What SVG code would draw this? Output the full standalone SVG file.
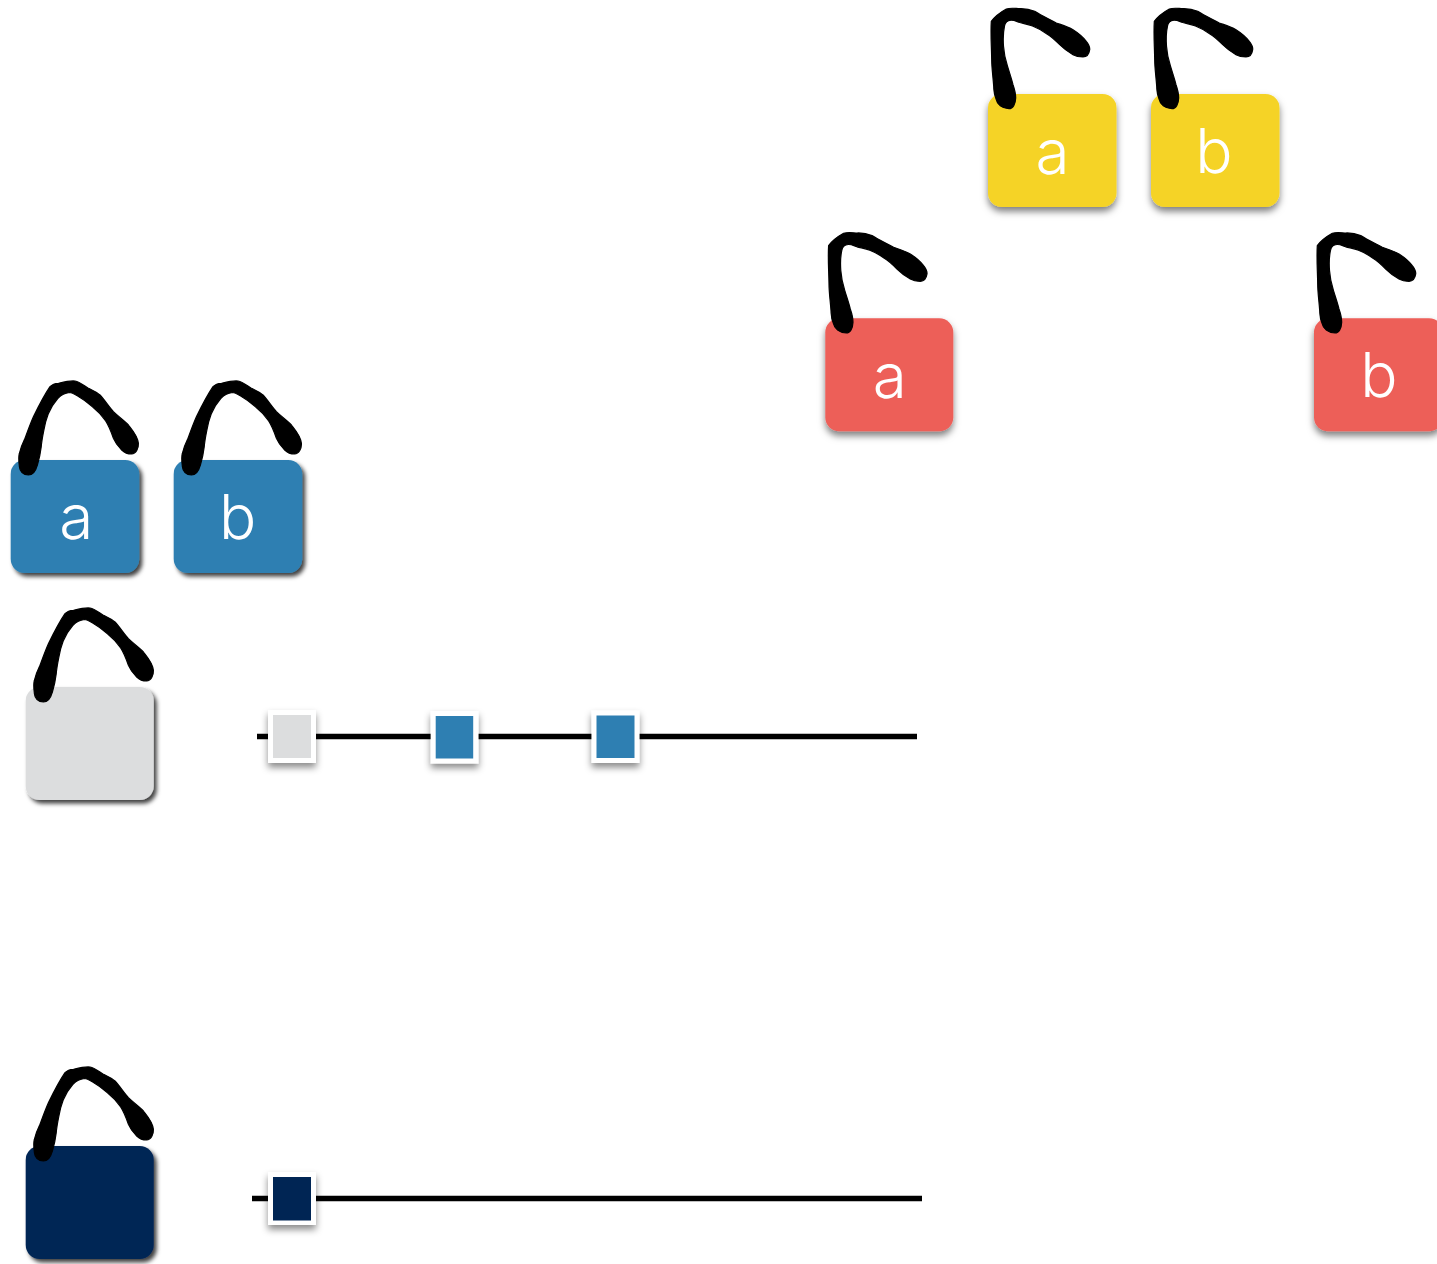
<svg xmlns="http://www.w3.org/2000/svg" width="1437" height="1264" viewBox="0 0 1437 1264">
<style>
.t{font-family:"Inter","Roboto","Liberation Sans",sans-serif;font-weight:300;font-size:62px;fill:#fff;text-anchor:middle}
.y{fill:#f5d327;filter:url(#soft)}
.r{fill:#ed5e59;filter:url(#soft)}
.b{fill:#2e7fb2;filter:url(#hard)}
.g{fill:#dcddde;filter:url(#hard)}
.n{fill:#002554;filter:url(#hard)}
.w{fill:#fff;filter:url(#chip)}
.line{stroke:#000;stroke-width:5.500;fill:none}
.s{fill:#000;stroke:#000;stroke-width:1.200;stroke-linejoin:round}
</style>
<defs>
<filter id="soft" x="-20%" y="-20%" width="140%" height="140%"><feDropShadow dx="0" dy="4.500" stdDeviation="3.500" flood-color="#000" flood-opacity=".5"/></filter>
<filter id="hard" x="-20%" y="-20%" width="140%" height="140%"><feDropShadow dx="3" dy="3.500" stdDeviation="2.200" flood-color="#000" flood-opacity=".75"/></filter>
<filter id="chip" x="-30%" y="-30%" width="160%" height="170%"><feDropShadow dx="0" dy="4.500" stdDeviation="3.500" flood-color="#000" flood-opacity=".45"/></filter>
<path id="open" class="s" d="M21 14.700C14 14.500 9 10 8.300 5.700C5.500 -1 6 -3 5.700 -7.700C5 -18 3.700 -26 3.700 -34.300C3.500 -48 2.500 -60 3.300 -72.700C8 -79 13 -82 18.300 -85C23 -86.500 27 -85.500 31.700 -85.300C37 -85.500 41 -85 46.700 -82.700C54 -78 61 -75 68.300 -71C74 -69 79.500 -67.500 85 -64.300C91 -60.500 95 -57 98.300 -52.700C100.500 -50 102 -47 101.700 -44.300C101 -39.500 98 -37 95 -37C91.500 -37 88 -37.500 85 -39.300C79.500 -42.500 75.500 -45.500 71.700 -49.300C67.500 -53.500 64 -57 59 -60C54.500 -63.500 49.500 -66 44.500 -68C40 -69.800 36 -70.300 31.700 -71.500C28 -72.800 26 -74 23 -73.800C19.500 -73.500 17 -71 16.500 -68C15 -61 15 -54.500 15.500 -47.700C16 -40 17.500 -34 19.500 -27.700C21.500 -21 23.500 -15.500 25 -9.300C26.500 -5 27.700 0 27.700 4C27.500 10 25 14.700 21 14.700Z"/>
<path id="closed" class="s" d="M17.700 15C12.500 15 9 11 8.700 6.700C8 1 7.500 -3 8.700 -6.700C10 -12 12 -17 14.300 -21.700C17 -29 19.500 -36 22.700 -43.300C27.500 -53 33 -64 39.300 -73.300C42 -76 44.500 -76.500 47.700 -76.700C53 -78 58.500 -79.500 64.300 -79C69 -78 73 -74.500 77.700 -71.700C82 -69.500 86 -68 89.300 -65C94 -60 98 -53.500 102.700 -48.300C107 -44 113 -40 117.700 -35C122 -29.500 127 -24 127.700 -16.700C128 -11 125 -6 121 -6C117 -6 113.500 -7.500 111 -10C107 -14 104.500 -17.500 102.700 -21.700C100.500 -28 98.500 -33.500 95 -39C91 -45 86.500 -49.500 81.500 -53.500C77.500 -57 73 -60.500 68.500 -63C65 -65 62 -67.500 58.700 -67.500C54.500 -67 50.500 -65 47 -61.500C43 -57 40 -52 37.500 -46C35.500 -41 34 -35 33 -29C32 -24 31 -18.500 30.500 -13C29.800 -7 28.500 -1 26.700 5C25 11 21.500 15 17.700 15Z"/>
</defs>
<rect width="1437" height="1264" fill="#fff"/>
<g id="connectors">
<line class="line" x1="257" y1="736.500" x2="917" y2="736.500"/>
<line class="line" x1="252" y1="1198.500" x2="922" y2="1198.500"/>
</g>
<g id="lock-yellow-a" transform="translate(988 94)"><rect class="y" width="128.500" height="113" rx="14"/><use href="#open"/><text class="t" x="64.500" y="79.500">a</text></g>
<g id="lock-yellow-b" transform="translate(1151 94)"><rect class="y" width="128.500" height="113" rx="14"/><use href="#open"/><text class="t" x="63" y="79">b</text></g>
<g id="lock-red-a" transform="translate(825.300 318.300)"><rect class="r" width="128" height="113" rx="14"/><use href="#open"/><text class="t" x="64.500" y="79.500">a</text></g>
<g id="lock-red-b" transform="translate(1314 318.300)"><rect class="r" width="129" height="113" rx="14"/><use href="#open"/><text class="t" x="65" y="79">b</text></g>
<g id="lock-blue-a" transform="translate(10.700 460)"><rect class="b" width="128.500" height="113" rx="14"/><use href="#closed"/><text class="t" x="65.500" y="79">a</text></g>
<g id="lock-blue-b" transform="translate(173.700 460)"><rect class="b" width="128.500" height="113" rx="14"/><use href="#closed"/><text class="t" x="64" y="79">b</text></g>
<g id="lock-gray" transform="translate(25.700 687)"><rect class="g" width="128" height="113" rx="14"/><use href="#closed"/></g>
<g id="lock-navy" transform="translate(25.700 1146)"><rect class="n" width="128" height="113" rx="14"/><use href="#closed"/></g>
<g id="chip-gray"><rect class="w" x="268" y="710" width="48" height="53"/><rect x="273" y="715" width="38" height="43" fill="#dcddde"/></g>
<g id="chip-blue-1"><rect class="w" x="430.700" y="711" width="47.800" height="52.500"/><rect x="435.700" y="716" width="37.500" height="42.500" fill="#2e7fb2"/></g>
<g id="chip-blue-2"><rect class="w" x="591.500" y="710.500" width="48" height="52.500"/><rect x="596.500" y="715.500" width="38" height="42.500" fill="#2e7fb2"/></g>
<g id="chip-navy"><rect class="w" x="268" y="1172" width="48" height="53"/><rect x="273" y="1177" width="38" height="43.500" fill="#002554"/></g>
</svg>
